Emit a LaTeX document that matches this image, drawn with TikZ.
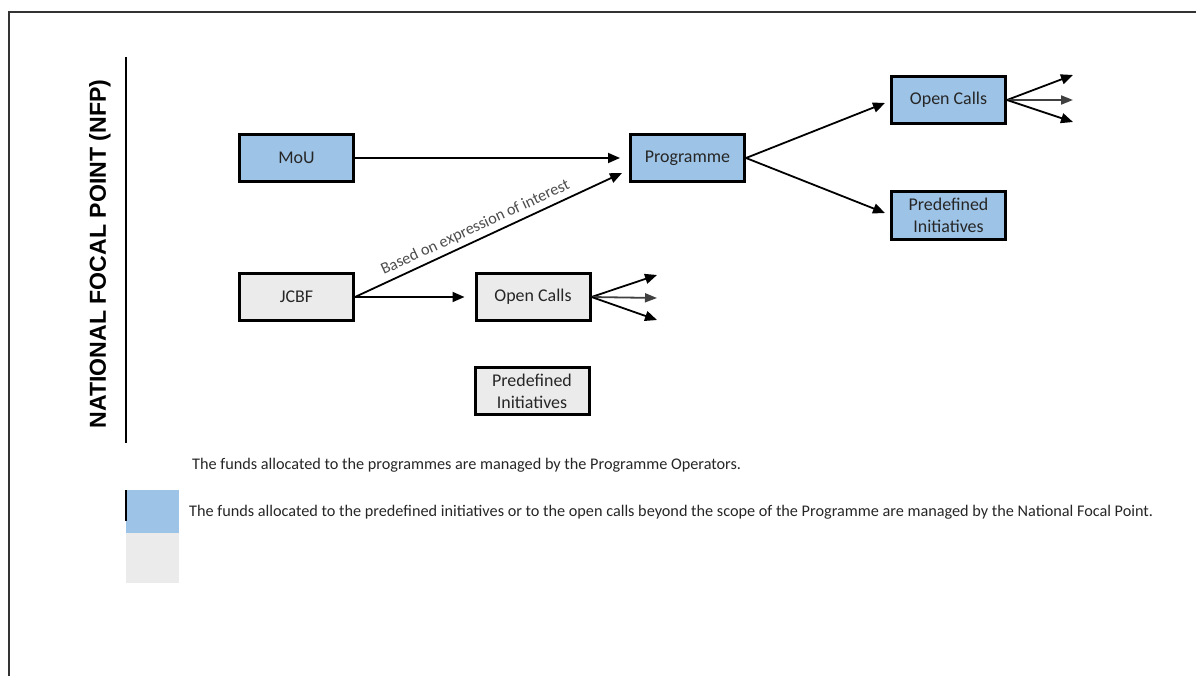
\documentclass[tikz,border=0pt]{standalone}
\usepackage{fontspec}
\setmainfont{Carlito}
\newfontfamily\arialbold{Liberation Sans}[UprightFont={* Bold}]
\usetikzlibrary{arrows.meta,calc}
\definecolor{boxblue}{HTML}{9DC3E6}
\definecolor{boxgrey}{HTML}{EBEBEB}
\definecolor{txtdark}{HTML}{262626}
\begin{document}
\begin{tikzpicture}[x=1bp,y=-1bp,
  box/.style={draw=black,line width=3bp,minimum width=114bp,minimum height=47bp,inner sep=0pt,
    font=\fontsize{18}{22}\selectfont,align=center,text=txtdark},
  bluebox/.style={box,fill=boxblue},
  greybox/.style={box,fill=boxgrey},
  conn/.style={line width=1.8bp,-{Triangle[length=12bp,width=10bp]}},
  connmid/.style={conn,draw=black!75,-{Triangle[length=12bp,width=9bp,fill=black!75]}},
  legtext/.style={anchor=west,inner sep=0pt,font=\fontsize{16.3}{19}\selectfont,text=txtdark}]
\useasboundingbox (0,0) rectangle (1196,676);
% frame
\draw[line width=1.5bp,black!80] (9,676) -- (9,12) -- (1196,12);
% vertical title
\node[rotate=90,font=\arialbold\fontsize{23.2}{26}\selectfont] (nfp) at (100,254) {NATIONAL FOCAL POINT (NFP)};
\draw[line width=2bp] (126,57) -- (126,443);
% boxes
\node[bluebox] (mou) at (296.5,158) {MoU};
\node[bluebox] (prog) at (687.5,158) {Programme};
\node[bluebox] (octop) at (948.5,100) {Open Calls};
\node[bluebox] (pitop) at (948.5,215.5) {Predefined\\Initiatives};
\node[greybox] (jcbf) at (296.5,297) {JCBF};
\node[greybox] (ocbot) at (533,297) {Open Calls};
\node[greybox] (pibot) at (532,391) {Predefined\\Initiatives};
% coordinates for arrow tips
\coordinate (progin) at (622,173);
\coordinate (octin) at (885,103);
\coordinate (pitin) at (885,213);
\coordinate (ta) at (1073,75);
\coordinate (tb) at (1073,100);
\coordinate (tc) at (1073,122);
\coordinate (ba) at (657,275);
\coordinate (bb) at (657,298);
\coordinate (bc) at (657,320);
% connectors
\draw[conn,shorten >=9bp] (mou.east) -- (prog.west);
\draw[conn] (jcbf.east) -- (progin)
  node[pos=0.47,sloped,above=1bp,font=\fontsize{16.3}{19}\selectfont,text=black!70] (lbl) {Based on expression of interest};
\draw[conn,shorten >=10bp] (jcbf.east) -- (ocbot.west);
\draw[conn] (prog.east) -- (octin);
\draw[conn] (prog.east) -- (pitin);
\draw[conn] (octop.east) -- (ta);
\draw[connmid] (octop.east) -- (tb);
\draw[conn] (octop.east) -- (tc);
\draw[conn] (ocbot.east) -- (ba);
\draw[connmid] (ocbot.east) -- (bb);
\draw[conn] (ocbot.east) -- (bc);
% legend
\fill[boxblue] (126,490) rectangle (179,533);
\fill[boxgrey] (126,533) rectangle (179,583);
\draw[line width=1.5bp] (126,490) -- (126,521);
\node[legtext] (leg1) at (192,465) {The funds allocated to the programmes are managed by the Programme Operators.};
\node[legtext] (leg2) at (189,512) {The funds allocated to the predefined initiatives or to the open calls beyond the scope of the Programme are managed by the National Focal Point.};
\end{tikzpicture}
\end{document}
